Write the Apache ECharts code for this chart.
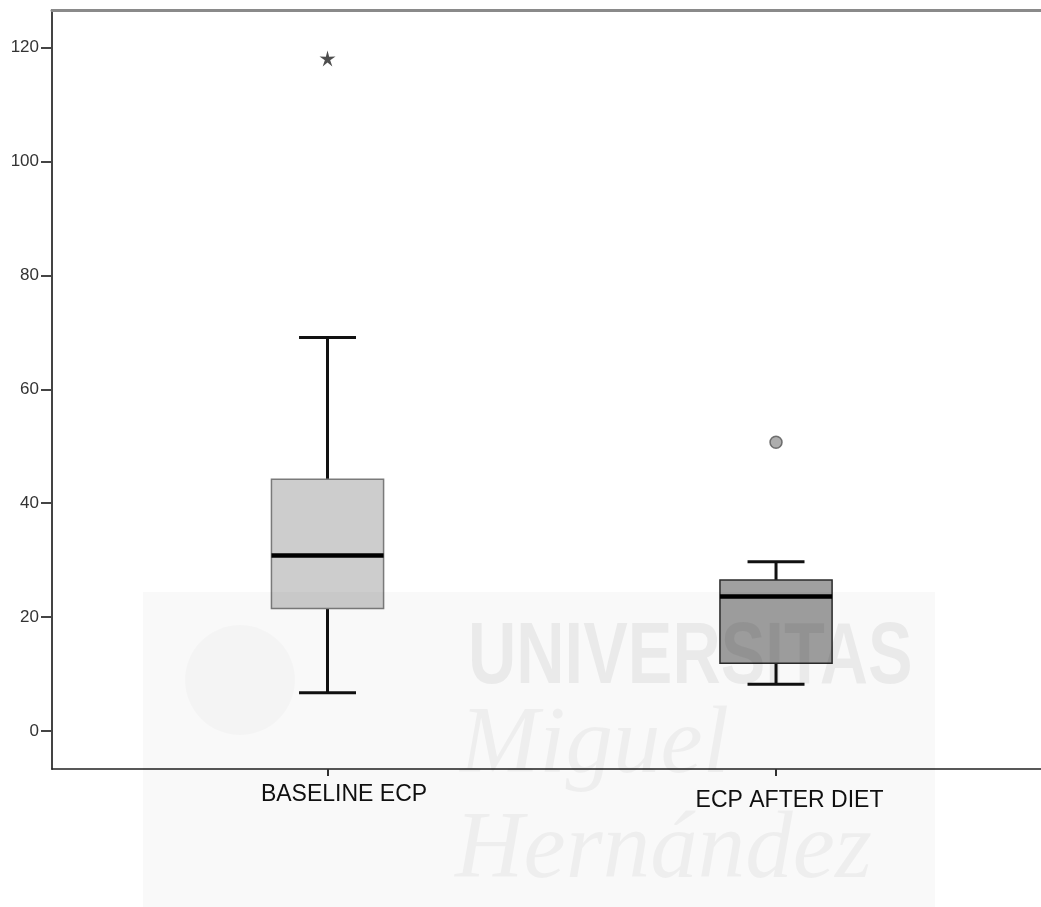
<!DOCTYPE html>
<html><head><meta charset="utf-8">
<script src="https://cdn.jsdelivr.net/npm/echarts@6/dist/echarts.min.js"></script>
<style>html,body{margin:0;padding:0;background:#fff}#c{width:1041px;height:907px}</style>
</head><body><div id="c"></div>
<script>
// ---- data ----
const categories = ['BASELINE ECP', 'ECP AFTER DIET'];
const boxMin    = [6.7, 8.2];
const boxQ1     = [21.5, 11.9];
const boxMedian = [30.8, 23.6];
const boxQ3     = [44.2, 26.5];
const boxMax    = [69.1, 29.7];
const extremeCats = ['BASELINE ECP'];
const extremeVals = [118.1];
const outlierCats = ['ECP AFTER DIET'];
const outlierVals = [50.7];
const yTicks = [0, 20, 40, 60, 80, 100, 120];

// ---- styles ----
const BOX_HALF = 0.125, CAP_HALF = 0.0635;
const boxStyles = [
  {fill: '#cdcdcd', stroke: '#7a7a7a', w: 1.5},
  {fill: '#a0a0a0', stroke: '#2a2a2a', w: 1.5}
];
const X_MIN = 0.3857, X_MAX = 2.5908;

const boxData = categories.map((c, i) => [i + 1, boxMin[i], boxQ1[i], boxMedian[i], boxQ3[i], boxMax[i]]);
const extremeData = extremeCats.map((c, k) => [categories.indexOf(c) + 1, extremeVals[k]]);
const outlierData = outlierCats.map((c, k) => [categories.indexOf(c) + 1, outlierVals[k]]);

function renderBox(params, api) {
  const x = api.value(0);
  const lo = api.value(1), q1 = api.value(2), med = api.value(3), q3 = api.value(4), hi = api.value(5);
  const c = v => api.coord([x, v]);
  const tl = api.coord([x - BOX_HALF, q3]);
  const br = api.coord([x + BOX_HALF, q1]);
  const capL = api.coord([x - CAP_HALF, hi])[0];
  const capR = api.coord([x + CAP_HALF, hi])[0];
  const st = boxStyles[params.dataIndex];
  const wStyle = {stroke: '#111', lineWidth: 3};
  return {type: 'group', children: [
    {type: 'line', shape: {x1: c(hi)[0], y1: c(hi)[1], x2: c(q3)[0], y2: c(q3)[1]}, style: wStyle},
    {type: 'line', shape: {x1: c(q1)[0], y1: c(q1)[1], x2: c(lo)[0], y2: c(lo)[1]}, style: wStyle},
    {type: 'line', shape: {x1: capL, y1: c(hi)[1], x2: capR, y2: c(hi)[1]}, style: wStyle},
    {type: 'line', shape: {x1: capL, y1: c(lo)[1], x2: capR, y2: c(lo)[1]}, style: wStyle},
    {type: 'rect', shape: {x: tl[0], y: tl[1], width: br[0] - tl[0], height: br[1] - tl[1]},
      style: {fill: st.fill, stroke: st.stroke, lineWidth: st.w}},
    {type: 'line', shape: {x1: tl[0], y1: c(med)[1], x2: br[0], y2: c(med)[1]}, style: {stroke: '#000', lineWidth: 4.5}}
  ]};
}

const chart = echarts.init(document.getElementById('c'), null, {renderer: 'canvas'});
const FONT = '"Liberation Sans", Arial, sans-serif';
chart.setOption({
  backgroundColor: '#ffffff',
  animation: false,
  grid: {left: 52, right: 0, top: 10, bottom: 138, outerBoundsMode: 'none', containLabel: false},
  xAxis: [{
    type: 'value', min: X_MIN, max: X_MAX, position: 'bottom',
    axisLine: {show: true, onZero: false, lineStyle: {color: '#222', width: 1.5}},
    axisTick: {show: true, customValues: [1, 2], length: 7, lineStyle: {color: '#333', width: 2}},
    axisLabel: {
      show: true, customValues: [1, 2], margin: 14,
      formatter: v => { const i = Math.round(v) - 1; return '{l' + i + '|' + categories[i] + '}'; },
      rich: {
        l0: {fontSize: 23, fontFamily: FONT, color: '#111', padding: [0, 0, 0, 33]},
        l1: {fontSize: 23, fontFamily: FONT, color: '#111', padding: [6, 0, 0, 27]}
      }
    },
    splitLine: {show: false}
  }, {
    type: 'value', min: X_MIN, max: X_MAX, position: 'top',
    axisLine: {show: true, onZero: false, lineStyle: {color: '#8a8a8a', width: 3}},
    axisTick: {show: false}, axisLabel: {show: false}, splitLine: {show: false}
  }],
  yAxis: {
    type: 'value', min: -6.67, max: 126.6,
    axisLine: {show: true, onZero: false, lineStyle: {color: '#444', width: 2}},
    axisTick: {show: true, customValues: yTicks, length: 11, lineStyle: {color: '#444', width: 2}},
    axisLabel: {show: true, customValues: yTicks, margin: 13, fontSize: 17, fontFamily: FONT, color: '#333'},
    splitLine: {show: false}
  },
  series: [
    {type: 'custom', renderItem: renderBox, data: boxData, encode: {x: 0, y: [1, 2, 3, 4, 5]}, z: 3, silent: true},
    {type: 'scatter', data: extremeData, z: 4, silent: true,
      symbol: 'path://M50,0 L60,36 L98,35 L66,56 L79,92 L50,69 L21,92 L34,56 L2,35 L40,36 Z',
      symbolSize: 16, itemStyle: {color: '#222'}},
    {type: 'scatter', data: outlierData, z: 4, silent: true,
      symbol: 'circle', symbolSize: 12, itemStyle: {color: '#999', borderColor: '#555', borderWidth: 1.5}}
  ],
  graphic: {elements: [
    {type: 'rect', silent: true, z: 100, shape: {x: 143, y: 592, width: 792, height: 315}, style: {fill: 'rgba(0,0,0,0.022)'}},
    {type: 'circle', silent: true, z: 100, shape: {cx: 240, cy: 680, r: 55}, style: {fill: 'rgba(0,0,0,0.02)'}},
    {type: 'text', silent: true, z: 100, x: 468, y: 659, scaleX: 0.76,
      style: {text: 'UNIVERSITAS', font: 'bold 88px "Liberation Sans"', fill: 'rgba(0,0,0,0.06)', align: 'left', verticalAlign: 'middle'}},
    {type: 'text', silent: true, z: 100, x: 460, y: 747,
      style: {text: 'Miguel', font: 'italic 95px "Liberation Serif"', fill: 'rgba(0,0,0,0.045)', align: 'left', verticalAlign: 'middle'}},
    {type: 'text', silent: true, z: 100, x: 455, y: 852,
      style: {text: 'Hernández', font: 'italic 95px "Liberation Serif"', fill: 'rgba(0,0,0,0.045)', align: 'left', verticalAlign: 'middle'}}
  ]}
});
</script>
</body></html>
